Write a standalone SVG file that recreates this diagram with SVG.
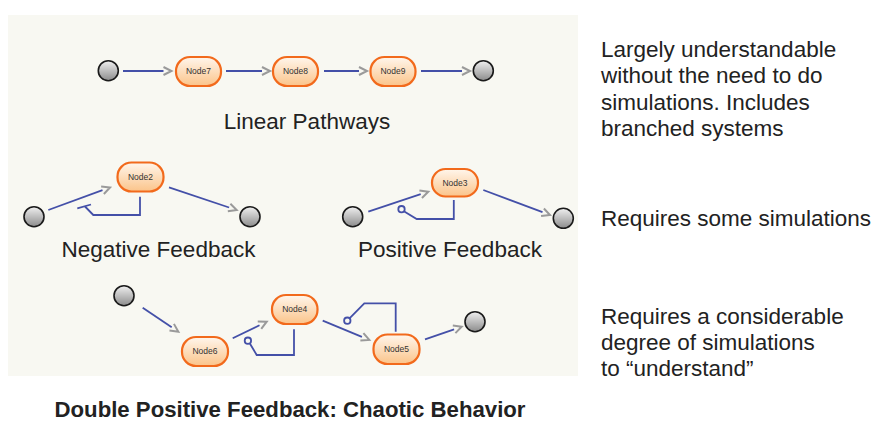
<svg xmlns="http://www.w3.org/2000/svg" width="874" height="421" viewBox="0 0 874 421">
<defs>
<linearGradient id="ng" x1="0" y1="0" x2="0" y2="1">
<stop offset="0" stop-color="#fff6ec"/>
<stop offset="1" stop-color="#fbc48a"/>
</linearGradient>
<linearGradient id="cg" x1="0" y1="0" x2="0" y2="1">
<stop offset="0" stop-color="#f0f0f0"/>
<stop offset="1" stop-color="#8c8c8c"/>
</linearGradient>
<marker id="ch" markerUnits="userSpaceOnUse" markerWidth="12" markerHeight="12" refX="1" refY="5" orient="auto" viewBox="0 0 12 10" overflow="visible">
<path d="M1,1 L9,5 L1,9" fill="none" stroke="#9a9a9a" stroke-width="2"/>
</marker>
<style>
.node rect{fill:url(#ng);stroke:#f26a1c;stroke-width:2.2}
.node text{font-family:"Liberation Sans",Arial,sans-serif;font-size:8.5px;fill:#333;text-anchor:middle}
.src{fill:url(#cg);stroke:#1a1a1a;stroke-width:1.6}
.e{fill:none;stroke:#4450a8;stroke-width:1.8}
.a{marker-end:url(#ch)}
.lbl{font-family:"Liberation Sans",Arial,sans-serif;font-size:22.5px;fill:#222}
.ttl{font-family:"Liberation Sans",Arial,sans-serif;font-size:22.2px;font-weight:bold;fill:#222}
</style>
</defs>
<rect x="8" y="15" width="570" height="361" fill="#f8f8f2"/>

<g id="connectors">
<line class="e a" x1="123" y1="71" x2="163.5" y2="71"/>
<line class="e a" x1="226" y1="71" x2="262" y2="71"/>
<line class="e a" x1="324" y1="71" x2="359" y2="71"/>
<line class="e a" x1="421" y1="71" x2="462" y2="71"/>

<line class="e a" x1="48.3" y1="210" x2="102.5" y2="190.2"/>
<line class="e a" x1="169" y1="187.3" x2="229.1" y2="207.5"/>
<polyline class="e" points="140,196.7 140,215 93.3,215 85,206.5"/>
<line class="e" x1="77.3" y1="208.3" x2="91" y2="204.5"/>

<line class="e a" x1="368.3" y1="211.7" x2="420.7" y2="194.2"/>
<line class="e a" x1="483.3" y1="190" x2="542.5" y2="212.2"/>
<polyline class="e" points="453.8,200 453.8,219 416.7,219 404.3,211.5"/>
<circle class="e" cx="401.5" cy="209.2" r="3.2"/>

<line class="e a" x1="142.7" y1="307.7" x2="171.7" y2="327.2"/>
<line class="e a" x1="232.7" y1="338.3" x2="259.5" y2="325.2"/>
<line class="e a" x1="322.7" y1="320.7" x2="361.9" y2="336.9"/>
<line class="e a" x1="425" y1="339.3" x2="454.1" y2="329.3"/>
<polyline class="e" points="294,329.3 294,355 256.7,355 250,343.7"/>
<circle class="e" cx="247.9" cy="340.7" r="3.2"/>
<polyline class="e" points="395.7,331.7 395.7,303.3 364.3,303.3 349.5,318.3"/>
<circle class="e" cx="347.3" cy="320.7" r="3.2"/>
</g>

<g id="src1"><circle class="src" cx="108.3" cy="70.7" r="10"/></g>
<g id="node7" class="node"><rect x="176" y="57" width="45" height="29" rx="14"/><text x="198.5" y="74">Node7</text></g>
<g id="node8" class="node"><rect x="273" y="57" width="45" height="29" rx="14"/><text x="295.5" y="74">Node8</text></g>
<g id="node9" class="node"><rect x="370.5" y="57" width="45" height="29" rx="14"/><text x="393" y="74">Node9</text></g>
<g id="sink1"><circle class="src" cx="483.3" cy="70.7" r="10"/></g>

<g id="src2"><circle class="src" cx="34" cy="216.7" r="10"/></g>
<g id="node2" class="node"><rect x="117.5" y="162.5" width="46" height="29" rx="14"/><text x="140.5" y="179.5">Node2</text></g>
<g id="sink2"><circle class="src" cx="250" cy="216.7" r="10"/></g>

<g id="src3"><circle class="src" cx="352.7" cy="216.7" r="10"/></g>
<g id="node3" class="node"><rect x="432" y="169" width="46" height="27.5" rx="13.5"/><text x="455" y="185.5">Node3</text></g>
<g id="sink3"><circle class="src" cx="563.3" cy="218.3" r="10"/></g>

<g id="src4"><circle class="src" cx="124" cy="295.7" r="10"/></g>
<g id="node6" class="node"><rect x="182" y="337" width="46" height="29" rx="14"/><text x="205" y="354">Node6</text></g>
<g id="node4" class="node"><rect x="272" y="295" width="45.5" height="29" rx="14"/><text x="294.7" y="312">Node4</text></g>
<g id="node5" class="node"><rect x="373.5" y="334.5" width="46" height="29.5" rx="14"/><text x="396.5" y="351.5">Node5</text></g>
<g id="sink4"><circle class="src" cx="475" cy="321.7" r="10"/></g>

<g id="labels">
<text class="lbl" x="307" y="129" text-anchor="middle">Linear Pathways</text>
<text class="lbl" x="158.5" y="257" text-anchor="middle">Negative Feedback</text>
<text class="lbl" x="450" y="257" text-anchor="middle">Positive Feedback</text>
<text class="ttl" x="290" y="417" text-anchor="middle">Double Positive Feedback: Chaotic Behavior</text>
<text class="lbl" x="601" y="57">Largely understandable</text>
<text class="lbl" x="601" y="83.3">without the need to do</text>
<text class="lbl" x="601" y="109.8">simulations. Includes</text>
<text class="lbl" x="601" y="136">branched systems</text>
<text class="lbl" x="601" y="225.5">Requires some simulations</text>
<text class="lbl" x="601" y="324">Requires a considerable</text>
<text class="lbl" x="601" y="350">degree of simulations</text>
<text class="lbl" x="601" y="375.5">to “understand”</text>
</g>
</svg>
